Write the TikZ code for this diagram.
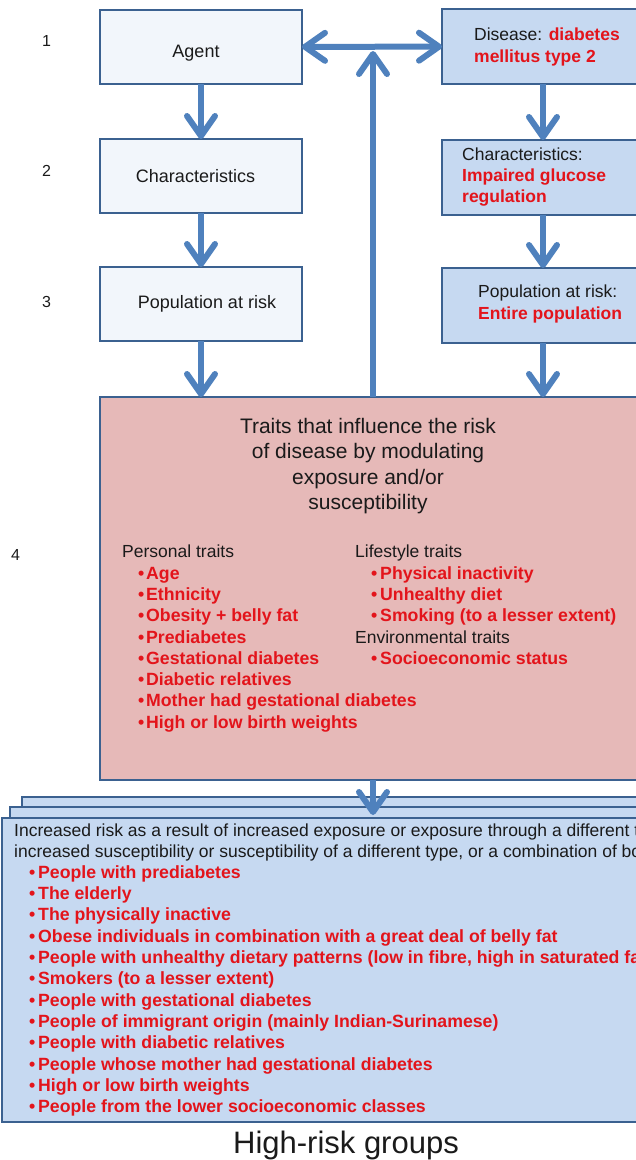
\documentclass[tikz,border=0pt]{standalone}
\usepackage{fontspec}
\setmainfont{Liberation Sans}
\usetikzlibrary{arrows.meta}
\definecolor{arrowblue}{HTML}{4F81BD}
\definecolor{edgeblue}{HTML}{3B6190}
\definecolor{paleblue}{HTML}{F2F6FB}
\definecolor{lightblue}{HTML}{C6D9F1}
\definecolor{rose}{HTML}{E6B9B8}
\definecolor{riskred}{HTML}{E3141B}
\definecolor{ink}{HTML}{1A1A1A}
\newcommand{\fs}[1]{\fontsize{#1}{#1}\selectfont}
\newcommand{\hl}[1]{\textcolor{riskred}{\bfseries #1}}
\newcommand{\bul}[1]{\makebox[#1][l]{\textbullet}}
\begin{document}
\begin{tikzpicture}[x=1pt,y=-1pt,
  box/.style={draw=edgeblue,line width=2pt,inner sep=0pt,outer sep=0pt},
  barb/.tip={Straight Barb[length=20pt,width=28pt,round]},
  flow/.style={draw=arrowblue,line width=6pt,-barb},
  twoway/.style={draw=arrowblue,line width=6pt,barb-barb},
  lbl/.style={inner sep=0pt,text=ink,font=\fs{18},anchor=base},
  txt/.style={inner sep=0pt,text=ink,font=\fs{17.5},anchor=base west},
  item/.style={inner sep=0pt,text=riskred,font=\fs{17.7}\bfseries,anchor=base west},
]
\useasboundingbox (0,0) rectangle (636,1160);
\clip (0,0) rectangle (636,1160);

% step numbers
\node[lbl,font=\fs{16}] (n1) at (46.6,46.7) {1};
\node[lbl,font=\fs{16}] (n2) at (46.6,176.7) {2};
\node[lbl,font=\fs{16}] (n3) at (46.6,307) {3};
\node[lbl,font=\fs{16}] (n4) at (15.5,560) {4};

% generic model (left column)
\node[box,fill=paleblue,minimum width=202pt,minimum height=74pt] (agent) at (201,47) {};
\node[box,fill=paleblue,minimum width=202pt,minimum height=74pt] (char) at (201,176) {};
\node[box,fill=paleblue,minimum width=202pt,minimum height=74pt] (pop) at (201,304) {};
\node[lbl] (agentT) at (196,57) {Agent};
\node[lbl] (charT) at (195.5,182.7) {Characteristics};
\node[lbl] (popT) at (207,308) {Population at risk};

% diabetes model (right column)
\node[box,fill=lightblue,minimum width=202pt,minimum height=75pt] (dis) at (543,46.5) {};
\node[box,fill=lightblue,minimum width=202pt,minimum height=75pt] (dchar) at (543,177.5) {};
\node[box,fill=lightblue,minimum width=202pt,minimum height=75pt] (dpop) at (543,305.5) {};
\node[txt] (disT1) at (474,40.7) {Disease: \hl{diabetes}};
\node[txt] (disT2) at (474,62.3) {\hl{mellitus type 2}};
\node[txt] (dcharT1) at (462,160) {Characteristics:};
\node[txt] (dcharT2) at (462,181.7) {\hl{Impaired glucose}};
\node[txt] (dcharT3) at (462,202.3) {\hl{regulation}};
\node[txt] (dpopT1) at (478,297.3) {Population at risk:};
\node[txt] (dpopT2) at (478,319) {\hl{Entire population}};

% modulating traits
\node[box,fill=rose,minimum width=544pt,minimum height=383pt] (traits) at (372,588.5) {};
\foreach \t [count=\i] in {Traits that influence the risk,of disease by modulating,exposure and/or,susceptibility}
  \node[lbl,font=\fs{21}] (title\i) at (368,{433.3+25.5*(\i-1)}) {\t};
\node[txt] (personal) at (122,557.7) {Personal traits};
\foreach \t [count=\i] in {Age,Ethnicity,Obesity + belly fat,Prediabetes,Gestational diabetes,Diabetic relatives,Mother had gestational diabetes,High or low birth weights}
  \node[item] (pers\i) at (138,{579+21.33*(\i-1)}) {\bul{8pt}\t};
\node[txt] (lifestyle) at (355,557.7) {Lifestyle traits};
\foreach \t [count=\i] in {Physical inactivity,Unhealthy diet,Smoking (to a lesser extent)}
  \node[item] (life\i) at (371,{579+21.33*(\i-1)}) {\bul{9pt}\t};
\node[txt] (environ) at (355,643) {Environmental traits};
\node[item] (env1) at (371,664.3) {\bul{9pt}Socioeconomic status};

% high-risk groups (stacked cards)
\node[box,fill=lightblue,anchor=north west,minimum width=760pt,minimum height=300pt] (back) at (22,797) {};
\node[box,fill=lightblue,anchor=north west,minimum width=760pt,minimum height=300pt] (mid) at (10,807) {};
\node[box,fill=lightblue,anchor=north west,minimum width=760pt,minimum height=304pt] (front) at (2,818) {};
\node[txt] (risk1) at (14,836) {Increased risk as a result of increased exposure or exposure through a different type,};
\node[txt] (risk2) at (14,857.3) {increased susceptibility or susceptibility of a different type, or a combination of both};
\foreach \t [count=\i] in {People with prediabetes,The elderly,The physically inactive,Obese individuals in combination with a great deal of belly fat,{People with unhealthy dietary patterns (low in fibre, high in saturated fat)},Smokers (to a lesser extent),People with gestational diabetes,People of immigrant origin (mainly Indian-Surinamese),People with diabetic relatives,People whose mother had gestational diabetes,High or low birth weights,People from the lower socioeconomic classes}
  \node[item] (grp\i) at (29,{878.3+21.33*(\i-1)}) {\bul{9pt}\t};
\node[lbl,font=\fs{31}] (caption) at (346,1153.3) {High-risk groups};

% connectors
\coordinate (hub) at (373,51);
\draw[flow] (agent) -- (char);
\draw[flow] (char) -- (pop);
\draw[flow] (pop.south) -- (pop.south |- traits.north);
\draw[flow] (dis) -- (dchar);
\draw[flow] (dchar) -- (dpop);
\draw[flow] (dpop.south) -- (dpop.south |- traits.north);
\draw[twoway] (agent) -- (dis);
\draw[flow] (traits.north -| hub) -- (hub);
\draw[flow] (traits.south -| hub) -- ([yshift=3pt]front.north -| hub);
\end{tikzpicture}
\end{document}
